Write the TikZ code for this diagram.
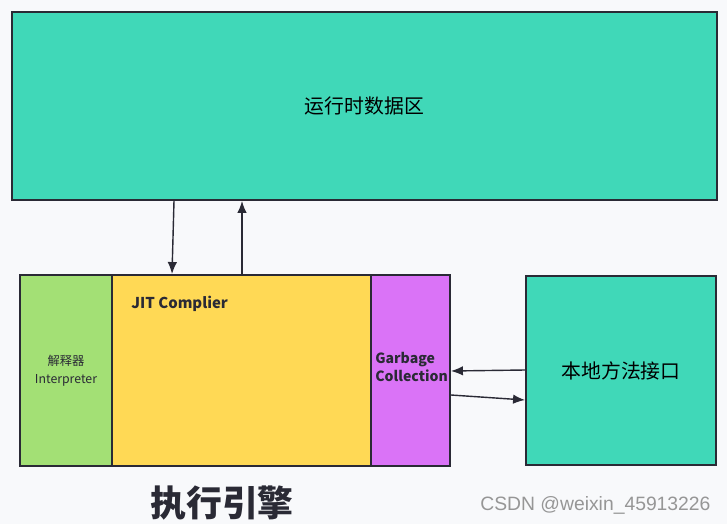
\documentclass[tikz,border=0pt]{standalone}
\usepackage{fontspec}
\setmainfont{Noto Sans CJK SC}
\newfontfamily\wmfont{Liberation Sans}
\usetikzlibrary{arrows.meta,calc}
\definecolor{bgwhite}{RGB}{248,249,251}
\definecolor{rdateal}{RGB}{64,216,184}
\definecolor{interpgreen}{RGB}{163,224,117}
\definecolor{jityellow}{RGB}{255,217,85}
\definecolor{gcpurple}{RGB}{218,115,247}
\definecolor{edgedark}{RGB}{42,42,53}

\begin{document}
\begin{tikzpicture}[
        x=0.02cm, y=-0.02cm,
        block/.style={rectangle, draw=edgedark, line width=1.1pt, inner sep=0pt, align=center},
        arrow/.style={-{Latex[length=2.4mm,width=1.9mm]}, draw=edgedark, line width=0.8pt}
    ]
        \fill[bgwhite] (0,0) rectangle (727,524);
        \useasboundingbox (0,0) rectangle (727,524);

        \node[block, fill=rdateal, minimum width=14.1cm, minimum height=3.76cm, font=\fontsize{11.3}{13}\selectfont] (rda) at (364.5,106) {运行时数据区};
        \node[block, fill=interpgreen, minimum width=1.84cm, minimum height=3.82cm] (interp) at (66,370.5) {};
        \node[block, fill=jityellow, minimum width=5.18cm, minimum height=3.82cm] (jit) at (241.5,370.5) {};
        \node[block, fill=gcpurple, minimum width=1.58cm, minimum height=3.82cm] (gc) at (410.5,370.5) {};
        \node[block, fill=rdateal, minimum width=3.8cm, minimum height=3.78cm, font=\fontsize{11.3}{13}\selectfont] (native) at (621,370.5) {本地方法接口};

        % labels inside the engine
        \node[align=center, text=edgedark, font=\fontsize{7}{10}\selectfont] (interptext) at (interp.center) {解释器\\Interpreter};
        \node[anchor=west, inner sep=0pt, text=edgedark, font=\bfseries\fontsize{8.5}{10}\selectfont] (jittext) at (131,304) {JIT Complier};
        \node[anchor=west, inner sep=0pt, align=left, text=edgedark, font=\bfseries\fontsize{8}{10.2}\selectfont] (gctext) at (375,367) {Garbage\\Collection};

        \node[text=edgedark, font=\bfseries\fontsize{20.4}{24}\selectfont] (engine) at (222,503) {执行引擎};
        \node[anchor=west, inner sep=0pt, text={rgb,255:red,150;green,150;blue,150}, font=\wmfont\fontsize{11}{13}\selectfont] (mark) at (480,505) {CSDN @weixin\_45913226};

        \coordinate (d1) at (174,0);
        \coordinate (d2) at (172,0);
        \coordinate (u1) at (242,0);
        \coordinate (g1) at (0,371);
        \coordinate (g2) at (0,370);
        \coordinate (g3) at (0,395);
        \coordinate (g4) at (0,400);

        \draw[arrow] (rda.south -| d1) -- (jit.north -| d2);
        \draw[arrow] (jit.north -| u1) -- (rda.south -| u1);
        \draw[arrow] (native.west |- g2) -- (gc.east |- g1);
        \draw[arrow] (gc.east |- g3) -- (native.west |- g4);
    \end{tikzpicture}
\end{document}
